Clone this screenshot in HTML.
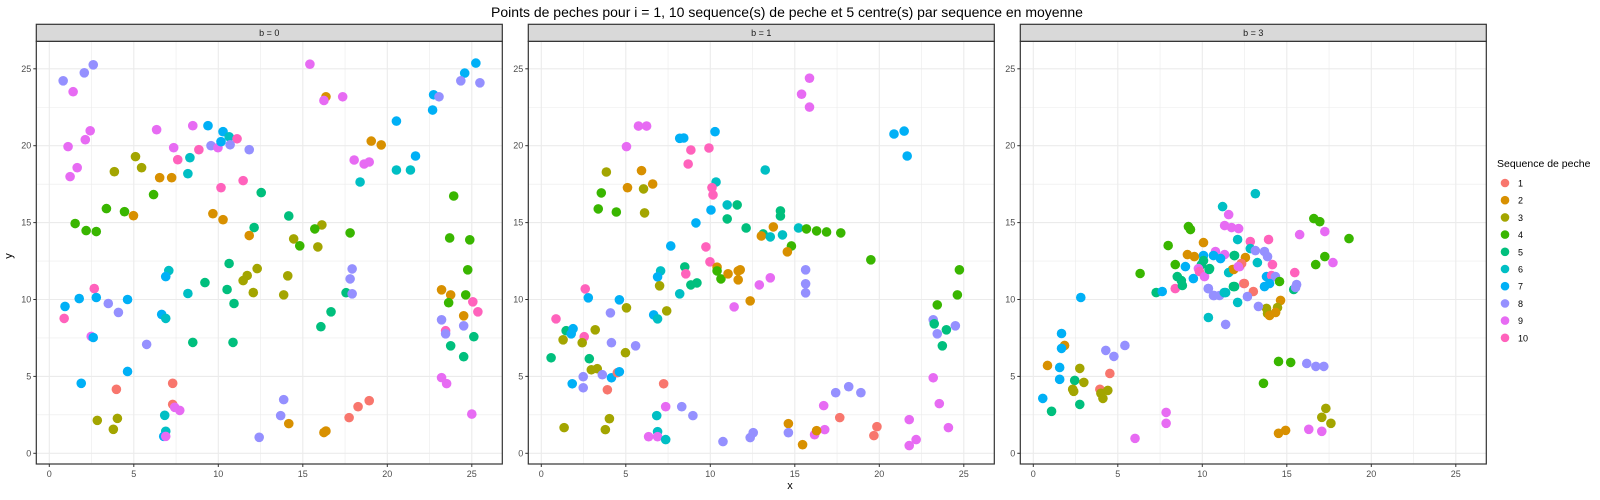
<!DOCTYPE html>
<html><head><meta charset="utf-8"><style>
body{margin:0;background:#fff;}
svg{display:block;font-family:"Liberation Sans",sans-serif;}
</style></head><body>
<svg id="chart" width="1600" height="500">
<text x="787" y="17" font-size="14" text-anchor="middle" fill="#000">Points de peches pour i = 1, 10 sequence(s) de peche et 5 centre(s) par sequence en moyenne</text>
<text x="790" y="489" font-size="11" text-anchor="middle" fill="#000">x</text>
<text x="12" y="256" font-size="11" text-anchor="middle" fill="#000" transform="rotate(-90 12 256)">y</text>
</svg>
<script>
const colors = ["#F8766D","#D89000","#A3A500","#39B600","#00BF7D","#00BFC4","#00B0F6","#9590FF","#E76BF3","#FF62BC"];
const panelLabels = ["b = 0","b = 1","b = 3"];
const xTicks = [0,5,10,15,20,25];
const yTicks = [0,5,10,15,20,25];
const legendLabels = ["1","2","3","4","5","6","7","8","9","10"];
// panel b=0 : [seq, x, y]
const panel0 = [
[8,0.82,24.22],[8,2.07,24.74],[8,2.60,25.26],[9,1.41,23.51],[9,2.42,20.97],[9,2.13,20.39],[9,1.11,19.94],[9,1.65,18.57],[9,1.23,17.99],
[3,5.1,19.29],[3,5.46,18.57],[3,3.85,18.31],[2,6.53,17.92],[2,7.24,17.92],[4,6.17,16.82],[9,6.35,21.04],[9,7.36,19.87],[10,7.6,19.09],
[9,8.49,21.3],[6,8.32,19.22],[6,8.2,18.18],[10,8.85,19.74],[7,9.39,21.3],[8,9.57,20.0],[9,9.98,19.87],[7,10.28,20.91],[6,10.64,20.58],
[7,10.16,20.26],[10,11.11,20.45],[8,10.7,20.06],[8,11.83,19.74],[10,10.16,17.27],[10,11.47,17.73],[5,12.54,16.95],[4,3.38,15.91],
[4,4.45,15.71],[2,4.98,15.45],[4,1.53,14.94],[4,2.18,14.48],[4,2.78,14.42],[2,9.68,15.58],[2,10.28,15.19],[5,12.12,14.68],[2,11.83,14.16],
[5,10.64,12.34],[3,12.3,12.01],[3,11.71,11.56],[3,11.47,11.23],[3,12.07,10.45],[5,10.52,10.65],[5,9.21,11.1],[5,10.93,9.74],[6,7.07,11.88],
[7,6.89,11.49],[6,8.2,10.39],[10,2.66,10.71],[7,1.77,10.06],[7,2.78,10.13],[7,0.93,9.55],[10,0.88,8.77],[8,3.49,9.74],[8,4.09,9.16],
[7,4.63,10.0],[7,6.65,9.03],[6,6.89,8.77],[9,2.48,7.6],[7,2.6,7.53],[8,5.76,7.08],[5,8.49,7.21],[5,10.87,7.21],[7,4.63,5.32],[7,1.89,4.55],
[1,3.97,4.16],[1,7.3,4.55],[1,7.3,3.18],[9,7.42,2.99],[9,7.72,2.79],[6,6.83,2.47],[3,2.84,2.14],[3,4.03,2.27],[3,3.79,1.56],[6,6.89,1.43],
[7,6.77,1.1],[9,6.89,1.1],[8,12.42,1.04],
[9,15.42,25.3],[2,16.37,23.18],[9,16.25,22.94],[9,17.36,23.18],[7,25.24,25.37],[7,24.58,24.72],[8,24.35,24.22],[8,25.48,24.09],[7,22.74,23.31],
[8,23.06,23.18],[7,22.68,22.32],[7,20.54,21.6],[2,19.05,20.3],[2,19.64,20.05],[9,18.04,19.07],[9,18.63,18.81],[9,18.93,18.94],[7,21.67,19.33],
[6,20.54,18.42],[6,21.37,18.42],[6,18.39,17.64],[4,23.93,16.73],[5,14.17,15.43],[3,16.13,14.85],[4,15.71,14.59],[4,17.8,14.33],[3,14.46,13.94],
[4,14.82,13.49],[3,15.89,13.42],[4,23.69,14.0],[4,24.88,13.88],[4,24.76,11.93],[3,14.11,11.54],[3,13.87,10.3],[8,17.92,11.99],[8,17.8,11.34],
[5,17.56,10.44],[8,17.92,10.37],[5,16.67,9.2],[5,16.07,8.23],[2,23.21,10.63],[2,23.75,10.3],[4,24.64,10.3],[4,23.63,9.79],[10,25.06,9.85],
[10,25.36,9.2],[2,24.52,8.94],[8,23.21,8.68],[8,24.52,8.29],[10,23.45,7.97],[8,23.45,7.77],[5,25.12,7.58],[5,23.75,6.99],[5,24.52,6.28],
[9,23.21,4.92],[9,23.51,4.53],[9,25.0,2.55],[8,13.87,3.49],[8,13.69,2.45],[2,14.17,1.93],[2,16.37,1.45],[2,16.25,1.35],[1,17.74,2.32],[1,18.27,3.03],[1,18.93,3.42]
];
// panel b=1
const panel1 = [
[9,5.75,21.28],[9,6.23,21.28],[9,5.04,19.94],[3,3.85,18.29],[2,5.93,18.38],[2,5.1,17.27],[2,6.59,17.51],[3,6.05,17.19],[4,3.55,16.93],
[4,3.37,15.89],[4,4.44,15.69],[3,6.11,15.63],[7,8.19,20.48],[7,8.43,20.5],[10,8.85,19.72],[10,8.69,18.81],[7,10.28,20.91],[10,9.92,19.85],
[6,10.34,17.64],[10,10.1,17.27],[10,10.16,16.8],[6,11.0,16.15],[5,11.59,16.15],[5,11.0,15.24],[7,10.04,15.82],[7,9.15,14.98],[5,12.12,14.65],
[7,7.66,13.48],[10,9.74,13.42],[10,9.98,12.45],[2,10.4,12.1],[4,10.4,11.86],[4,10.63,11.34],[2,11.05,11.67],[2,11.65,11.86],[2,11.77,11.93],
[2,11.65,11.28],[5,8.49,12.12],[10,8.55,11.67],[5,8.85,10.95],[5,9.21,11.08],[6,8.19,10.37],[6,7.06,11.86],[7,6.88,11.47],[3,7.0,10.89],
[2,12.36,9.91],[9,11.41,9.52],[3,7.42,9.26],[7,6.65,9.0],[6,6.88,8.74],[10,2.6,10.69],[7,2.78,10.11],[7,4.62,9.98],[3,5.04,9.46],[8,4.09,9.13],
[10,0.87,8.74],[5,1.47,7.97],[7,1.88,8.1],[7,1.77,7.77],[3,1.29,7.38],[3,3.19,8.03],[10,2.54,7.58],[3,2.42,7.19],[8,4.15,7.19],[8,5.58,6.99],
[3,4.98,6.54],[5,0.58,6.21],[5,2.84,6.15],[3,2.96,5.43],[3,3.31,5.5],[8,3.61,5.11],[8,2.48,4.98],[7,4.15,4.91],[1,4.5,5.24],[7,4.62,5.3],
[7,1.83,4.52],[8,2.48,4.26],[1,3.91,4.13],[1,7.24,4.52],[9,7.36,3.03],[8,8.31,3.03],[8,8.97,2.45],[6,6.83,2.45],[3,4.03,2.25],[3,1.35,1.67],
[3,3.79,1.54],[6,6.88,1.41],[9,6.35,1.08],[9,6.88,1.08],[6,7.36,0.89],[8,10.75,0.76],[8,12.36,1.02],[8,12.54,1.34],
[9,15.87,24.39],[9,15.4,23.35],[9,15.87,22.51],[7,20.87,20.76],[7,21.47,20.95],[7,21.65,19.33],[6,13.25,18.42],[5,14.15,15.76],[5,14.15,15.43],
[2,13.73,14.72],[5,13.13,14.26],[2,13.02,14.13],[6,13.55,14.07],[6,14.27,14.2],[6,15.22,14.65],[4,15.69,14.59],[4,16.29,14.46],[4,16.88,14.39],
[4,17.72,14.33],[4,14.8,13.48],[2,14.56,13.1],[4,19.5,12.58],[8,15.64,11.93],[8,15.64,11.02],[8,15.64,10.43],[9,13.55,11.41],[9,12.9,10.95],
[4,24.74,11.93],[4,24.62,10.3],[4,23.43,9.65],[8,23.19,8.68],[5,23.25,8.42],[5,23.97,8.03],[8,24.5,8.29],[8,23.43,7.77],[5,23.73,6.99],
[9,23.19,4.91],[9,23.55,3.23],[9,24.09,1.67],[9,21.77,2.19],[9,22.18,0.89],[9,21.77,0.5],[1,19.86,1.73],[1,19.68,1.15],[1,17.66,2.32],
[8,17.42,3.94],[8,18.19,4.33],[8,18.91,3.94],[9,16.71,3.1],[9,16.77,1.54],[9,16.17,1.21],[2,16.29,1.47],[2,14.62,1.93],[8,14.62,1.34],[2,15.46,0.56]
];
// panel b=3
const panel2 = [
[7,0.56,3.57],[5,1.08,2.73],[2,0.84,5.71],[7,1.56,4.81],[7,1.56,5.58],[2,1.85,7.01],[7,1.67,6.82],[7,1.67,7.79],[7,2.81,10.13],[5,2.45,4.74],
[3,2.33,4.16],[3,2.39,4.03],[3,2.75,5.52],[3,2.99,4.61],[5,2.75,3.18],[1,3.94,4.16],[3,4.0,3.9],[3,4.12,3.57],[3,4.41,4.09],[1,4.53,5.19],
[8,4.29,6.69],[8,4.77,6.3],[8,5.42,7.01],[9,6.02,0.97],[9,7.86,2.66],[9,7.86,1.95],[4,6.32,11.69],[5,7.27,10.45],[7,7.63,10.52],[10,8.4,10.71],
[4,7.98,13.51],[4,8.4,12.27],[5,8.52,11.49],[5,8.76,11.23],[5,8.82,10.91],[7,9.0,12.14],[7,9.47,11.36],[4,9.18,14.74],[4,9.3,14.55],[2,9.12,12.92],
[2,9.53,12.79],[2,10.07,13.7],[7,10.07,12.86],[5,10.07,12.53],[5,9.95,12.27],[9,9.77,12.01],[10,9.83,11.82],[9,10.13,11.49],[5,10.43,12.01],
[9,10.78,13.12],[7,10.66,12.86],[9,11.32,12.92],[7,11.08,12.66],[8,10.36,10.71],[8,10.66,10.26],[8,11.02,10.26],[6,11.38,10.45],[6,10.36,8.83],
[8,11.38,8.38],[6,11.2,16.04],[9,11.56,15.52],[9,11.32,14.81],[9,11.73,14.68],[9,12.15,14.61],[6,12.09,13.9],[5,11.91,12.86],[2,11.79,11.95],
[6,11.56,11.75],[5,11.91,10.84],[6,12.09,9.81],[10,12.45,11.04],[10,12.33,12.34],[9,12.21,12.14],
[6,13.14,16.88],[10,12.84,13.77],[10,13.92,13.9],[4,16.6,15.26],[4,16.95,15.06],[9,15.76,14.22],[9,17.25,14.42],[4,18.68,13.96],[4,17.25,12.79],
[4,16.71,12.27],[9,17.73,12.4],[10,15.47,11.75],[10,14.15,12.27],[8,13.68,13.12],[8,13.86,12.79],[6,12.84,13.31],[8,13.14,13.18],[6,13.26,12.4],
[2,12.55,12.73],[1,12.31,12.34],[2,11.86,11.95],[9,12.13,12.14],[5,11.89,12.86],[5,10.4,11.95],[7,13.8,11.49],[10,14.1,11.56],[8,14.33,11.49],
[7,13.68,10.84],[7,13.98,11.04],[4,14.57,11.17],[5,15.41,10.65],[8,15.58,10.97],[8,15.52,10.78],[5,11.84,10.84],[1,12.49,11.04],[1,13.02,10.52],
[6,11.3,10.45],[8,10.35,10.71],[8,10.7,10.26],[8,12.67,10.19],[2,14.63,9.94],[3,14.45,9.48],[2,14.34,9.16],[3,13.8,9.42],[3,13.86,9.09],
[2,13.98,8.96],[8,13.32,9.55],[4,14.51,5.97],[4,15.23,5.91],[8,16.18,5.84],[8,16.72,5.65],[8,17.19,5.65],[4,13.62,4.55],[3,17.31,2.92],
[3,17.07,2.34],[3,17.61,1.95],[2,14.51,1.3],[2,14.93,1.49],[9,16.3,1.56],[9,17.07,1.43]
];
const panels = [panel0, panel1, panel2];
const NS = "http://www.w3.org/2000/svg";
const svg = document.getElementById('chart');
function mk(tag, attrs, parent){const e=document.createElementNS(NS,tag);for(const k in attrs)e.setAttribute(k,attrs[k]);(parent||svg).appendChild(e);return e;}
const PW=466, TOP=41.3, BOT=464, STRIPTOP=24.3;
const panelLeft=[36.3,528.3,1020.3];
const XS=16.9, YS=15.38, Y0=453.3;
function sy(v){return Y0 - v*YS;}
panels.forEach((pts,pi)=>{
  const L=panelLeft[pi], x0=L+13;
  const sx=v=>x0+v*XS;
  const g=mk('g',{});
  
  
  mk('rect',{x:L,y:TOP,width:PW,height:BOT-TOP,fill:'#fff'},g);
  for(let v=0;v<=27.5;v+=2.5){const X=sx(v); if(X<L+PW) mk('line',{x1:X,x2:X,y1:TOP,y2:BOT,stroke:'#ebebeb','stroke-width':v%5===0?1.1:0.6},g);}
  for(let v=0;v<=27.5;v+=2.5){const Y=sy(v); if(Y>TOP) mk('line',{x1:L,x2:L+PW,y1:Y,y2:Y,stroke:'#ebebeb','stroke-width':v%5===0?1.1:0.6},g);}
  pts.forEach(p=>{
    const c=mk('circle',{cx:sx(p[1]),cy:sy(p[2]),r:4.8,fill:colors[p[0]-1]},g);
    
    
  });
  mk('rect',{x:L,y:TOP,width:PW,height:BOT-TOP,fill:'none',stroke:'#333','stroke-width':1.2},g);
  const s=mk('rect',{x:L,y:STRIPTOP,width:PW,height:TOP-STRIPTOP,fill:'#d9d9d9',stroke:'#333','stroke-width':1.2},g);
  
  
  const st=mk('text',{x:L+PW/2,y:36,'font-size':9,'text-anchor':'middle',fill:'#1a1a1a'},g);
  st.textContent=panelLabels[pi];
  
  
  xTicks.forEach(t=>{
    mk('line',{x1:sx(t),x2:sx(t),y1:BOT,y2:BOT+3,stroke:'#333'},g);
    const tx=mk('text',{x:sx(t),y:477,'font-size':9,'text-anchor':'middle',fill:'#4d4d4d'},g);
    tx.textContent=t;
    
    
  });
  yTicks.forEach(t=>{
    mk('line',{x1:L-3,x2:L,y1:sy(t),y2:sy(t),stroke:'#333'},g);
    const ty=mk('text',{x:L-5,y:sy(t)+3,'font-size':9,'text-anchor':'end',fill:'#4d4d4d'},g);
    ty.textContent=t;
    
    
  });
});
const lg=mk('g',{});


const lt=mk('text',{x:1497,y:167,'font-size':10.5,fill:'#000'},lg);
lt.textContent='Sequence de peche';


legendLabels.forEach((lab,i)=>{
  const y=183+i*17.2;
  const e=mk('g',{},lg);
  
  
  mk('circle',{cx:1505,cy:y,r:4.3,fill:colors[i]},e);
  const t=mk('text',{x:1518,y:y+3.5,'font-size':9,fill:'#000'},e);
  t.textContent=lab;
});
</script>
</body></html>
